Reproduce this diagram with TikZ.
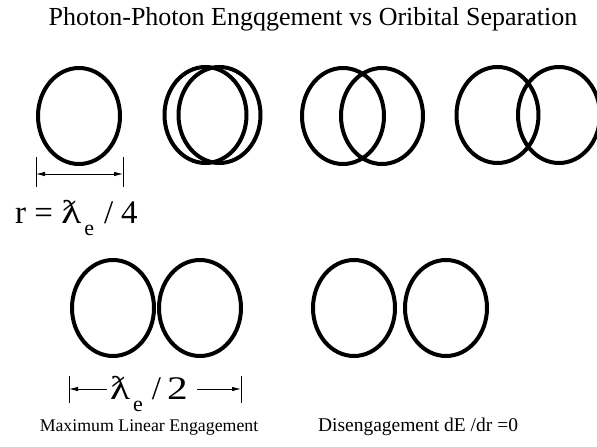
\documentclass[tikz,border=0pt]{standalone}
\usepackage{fontspec}
\setmainfont{Liberation Serif}
\usetikzlibrary{shapes.geometric,arrows.meta}
\newcommand{\lamb}{\scalebox{1.25}[1]{\symbol{"019B}}}
\newcommand{\subE}{\hspace{3pt}\raisebox{-12pt}{\fontsize{22}{22}\selectfont e}}
\begin{document}
\begin{tikzpicture}[x=1pt,y=-1pt,
  ring/.style={draw=black,line width=4pt,ellipse,minimum width=82pt,minimum height=96pt,inner sep=0pt},
  tick/.style={line width=0.8pt},
  dim/.style={line width=0.8pt,-{Latex[length=9pt,width=4.5pt]}},
  lbl/.style={inner sep=0pt,anchor=base},
  big/.style={inner sep=0pt,font=\fontsize{33}{35}\selectfont}]
\useasboundingbox (0,0) rectangle (597,447);
\node[inner sep=0pt,font=\fontsize{26}{28}\selectfont,anchor=base] (title) at (313,25) {Photon-Photon Engqgement vs Oribital Separation};
% top row
\node[ring] (c1) at (79,116) {};
\node[ring] (c2a) at (205.5,115) {};
\node[ring] (c2b) at (219.5,115) {};
\node[ring] (c3a) at (343,116) {};
\node[ring] (c3b) at (382,116) {};
\node[ring] (c4a) at (497.5,115) {};
\node[ring] (c4b) at (559,115) {};
% r dimension
\coordinate (t1a) at (36,157); \coordinate (t1b) at (36,187);
\coordinate (t2a) at (123,157); \coordinate (t2b) at (123,187);
\coordinate (m1) at (79.5,174);
\coordinate (e1) at (36,174);
\coordinate (e2) at (123,174);
\draw[tick] (t1a) -- (t1b);
\draw[tick] (t2a) -- (t2b);
\draw[dim] (m1) -- (e1);
\draw[dim] (m1) -- (e2);
\node[big,anchor=base west] (rlab) at (15,223) {r = \lamb\subE\hspace{10pt}/\hspace{8pt}4};
% bottom row
\node[ring] (d1a) at (113,308) {};
\node[ring] (d1b) at (200,308) {};
\node[ring] (d2a) at (354,308) {};
\node[ring] (d2b) at (446,308) {};
% lambda/2 dimension
\coordinate (u1a) at (69,376); \coordinate (u1b) at (69,403);
\coordinate (u2a) at (241,376); \coordinate (u2b) at (241,403);
\coordinate (h1) at (107,389); \coordinate (g1) at (69,389);
\coordinate (h2) at (197,389); \coordinate (g2) at (241,389);
\draw[tick] (u1a) -- (u1b);
\draw[tick] (u2a) -- (u2b);
\node[big,anchor=base west] (hlab) at (110,399) {\lamb\subE\hspace{9pt}/\hspace{6pt}\scalebox{1.25}[1]{2}};
\draw[dim] (h1) -- (g1);
\draw[dim] (h2) -- (g2);
\node[lbl,font=\fontsize{17.8}{20}\selectfont] (max) at (149,431) {Maximum Linear Engagement};
\node[lbl,font=\fontsize{19.5}{21}\selectfont] (dis) at (418,431) {Disengagement dE /dr =0};
\end{tikzpicture}
\end{document}
